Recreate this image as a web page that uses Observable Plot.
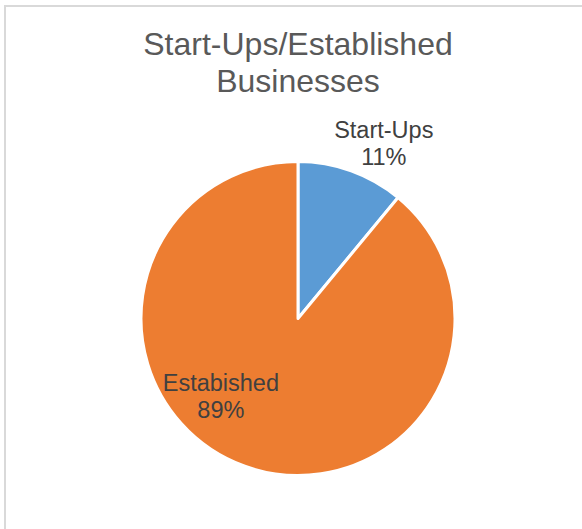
<!DOCTYPE html>
<html><head><meta charset="utf-8">
<script src="https://cdn.jsdelivr.net/npm/d3@7"></script>
<script src="https://cdn.jsdelivr.net/npm/@observablehq/plot@0.6"></script>
<style>
html,body{margin:0;padding:0;background:#fff;}
#wrap{position:relative;width:582px;height:529px;overflow:hidden;font-family:"Liberation Sans",Arial,sans-serif;}
#frame{position:absolute;left:4px;top:5px;width:640px;height:640px;border:2px solid #d9d9d9;box-sizing:border-box;}
#title{position:absolute;left:98px;width:400px;top:26px;text-align:center;font-size:32px;line-height:37px;color:#595959;}
#chart{position:absolute;left:0;top:0;}
</style></head><body>
<div id="wrap"><div id="frame"></div><div id="title">Start-Ups/Established<br>Businesses</div><div id="chart"></div></div>
<script>
const categories = ["Start-Ups", "Estabished"];
const values = [11, 89];
const percentLabels = ["11%", "89%"];
const colors = ["#5B9BD5", "#ED7D31"];

const rows = categories.map((c, i) => ({category: c, value: values[i], label: percentLabels[i], color: colors[i]}));
const arcs = d3.pie().sort(null).value(d => d.value)(rows);
const mid = d => (d.startAngle + d.endAngle) / 2;

function slices(index, scales) {
  const cx = scales.x(0), cy = scales.y(0);
  const r = Math.abs(scales.x(1) - scales.x(0));
  const arc = d3.arc().innerRadius(0).outerRadius(r);
  const g = d3.create("svg:g").attr("transform", `translate(${cx},${cy})`);
  g.selectAll("path").data(arcs).join("path")
    .attr("d", arc)
    .attr("fill", d => d.data.color)
    .attr("stroke", "#fff")
    .attr("stroke-width", 3)
    .attr("stroke-linejoin", "round");
  return g.node();
}

const textOpts = {
  text: d => d.data.category + "\n" + d.data.label,
  fontSize: 23.5,
  lineHeight: 1.15,
  fill: "#404040",
  textAnchor: "middle"
};

const chart = Plot.plot({
  width: 582,
  height: 529,
  marginLeft: 141,
  marginRight: 127,
  marginTop: 161.5,
  marginBottom: 53.5,
  x: {domain: [-1, 1], axis: null},
  y: {domain: [-1, 1], axis: null},
  style: {background: "transparent", fontFamily: "'Liberation Sans', Arial, sans-serif", overflow: "visible"},
  marks: [
    slices,
    Plot.text([arcs[0]], {...textOpts, x: d => 1.19 * Math.sin(mid(d)), y: d => 1.19 * Math.cos(mid(d)), dx: 22}),
    Plot.text([arcs[1]], {...textOpts, x: d => 0.52 * Math.sin(mid(d)), y: d => 0.52 * Math.cos(mid(d)), dx: -50})
  ]
});
document.getElementById("chart").appendChild(chart);
</script>
</body></html>
